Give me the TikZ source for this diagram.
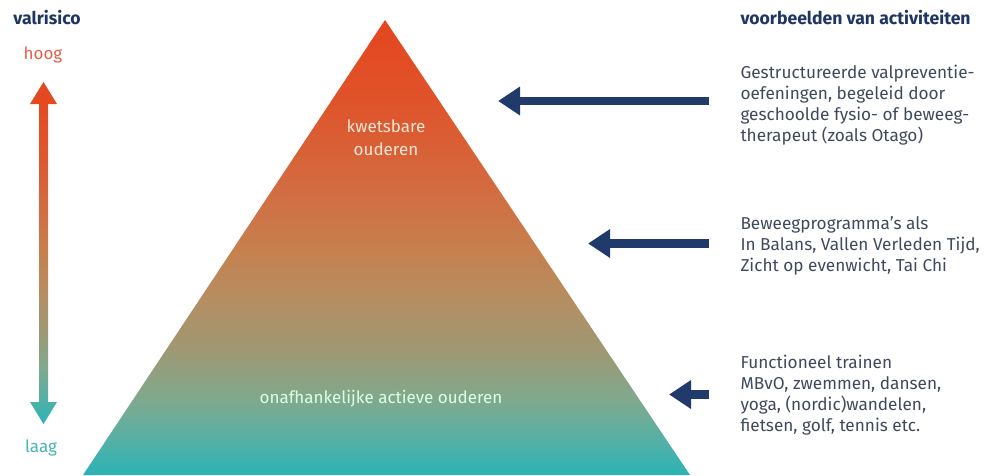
\documentclass[tikz,border=0pt]{standalone}
\usepackage{fontspec}
\setmainfont{Fira Sans}
\usetikzlibrary{arrows.meta}

\definecolor{navy}{HTML}{1F3A6B}
\definecolor{kopblauw}{HTML}{1E3462}
\definecolor{tekst}{HTML}{3E4A5C}
\definecolor{hoogkleur}{HTML}{E2604A}
\definecolor{laagkleur}{HTML}{45B5B5}
\definecolor{licht}{HTML}{F6E6D6}

% verloop van oranje (boven) naar turkoois (onder)
\pgfdeclareverticalshading{valverloop}{100bp}{%
  rgb(0bp)=(0.169,0.702,0.714);
  rgb(25bp)=(0.169,0.702,0.714);
  rgb(28.8bp)=(0.333,0.690,0.651);
  rgb(33.2bp)=(0.498,0.663,0.557);
  rgb(38.7bp)=(0.620,0.596,0.451);
  rgb(44.2bp)=(0.710,0.557,0.384);
  rgb(49.7bp)=(0.776,0.502,0.310);
  rgb(57.4bp)=(0.831,0.412,0.243);
  rgb(66.2bp)=(0.878,0.325,0.165);
  rgb(75bp)=(0.894,0.275,0.118);
  rgb(100bp)=(0.894,0.275,0.118)}

\tikzset{every picture/.style={line width=0.75pt}}
\tikzset{
  kop/.style={anchor=base west, inner sep=0pt, font=\fontsize{13.2}{15}\selectfont\bfseries, text=kopblauw},
  lijst/.style={anchor=north west, inner sep=0pt, align=left, font=\fontsize{12.9}{15.75}\selectfont, text=tekst},
  laag/.style={inner sep=0pt, align=center, font=\fontsize{12.75}{17}\selectfont, text=licht},
  pijl/.style={draw=navy, line width=6.4pt, -{Triangle[length=16.5pt,width=20.5pt]}},
  niveau/.style={inner sep=0pt, font=\fontsize{12.75}{15}\selectfont}
}

\begin{document}
\begin{tikzpicture}[x=0.75pt,y=0.75pt,yscale=-1,xscale=1]
     \useasboundingbox (0,0) rectangle (994,475);
     %Shape: Triangle [id:piramide]
     \shade [shading=valverloop] (385,20) -- (690,475) -- (83,475) -- cycle ;
     %Shape: Double arrow [id:risicopijl]
     \shade [shading=valverloop] (43.5,82) -- (57,104) -- (48,104) -- (48,402) -- (57,402) -- (43.5,424) -- (30,402) -- (39,402) -- (39,104) -- (30,104) -- cycle ;
     % Text Node
     \node [kop] (valrisico) at (13,24) {valrisico};
     % Text Node
     \node [kop] (voorbeelden) at (740,24) {voorbeelden van activiteiten};
     % Text Node
     \node [niveau, text=hoogkleur] (hoog) at (43,55) {hoog};
     % Text Node
     \node [niveau, text=laagkleur] (laagrisico) at (41,448) {laag};
     % Text Node
     \node [laag] (kwetsbaar) at (386,138) {kwetsbare\\ouderen};
     % Text Node
     \node [laag, text=white!88!green] (actief) at (381,399) {onafhankelijke actieve ouderen};
     % Text Node
     \node [lijst] (blok1) at (740,65) {Gestructureerde valpreventie-\\oefeningen, begeleid door\\geschoolde fysio- of beweeg-\\therapeut (zoals Otago)};
     % Text Node
     \node [lijst] (blok2) at (740,216) {Beweegprogramma’s als\\In Balans, Vallen Verleden Tijd,\\Zicht op evenwicht, Tai Chi};
     % Text Node
     \node [lijst] (blok3) at (740,355) {Functioneel trainen\\MBvO, zwemmen, dansen,\\yoga, (nordic)wandelen,\\fietsen, golf, tennis etc.};
     %Straight Lines [id:pijl1]
     \coordinate (doel1) at (498,101);
     \draw [pijl] (doel1 -| blok1.west) ++(-31,0) -- (doel1) ;
     %Straight Lines [id:pijl2]
     \coordinate (doel2) at (588,243.5);
     \draw [pijl] (doel2 -| blok2.west) ++(-31,0) -- (doel2) ;
     %Straight Lines [id:pijl3]
     \coordinate (doel3) at (669,394.5);
     \draw [pijl] (doel3 -| blok3.west) ++(-31,0) -- (doel3) ;
\end{tikzpicture}
\end{document}
